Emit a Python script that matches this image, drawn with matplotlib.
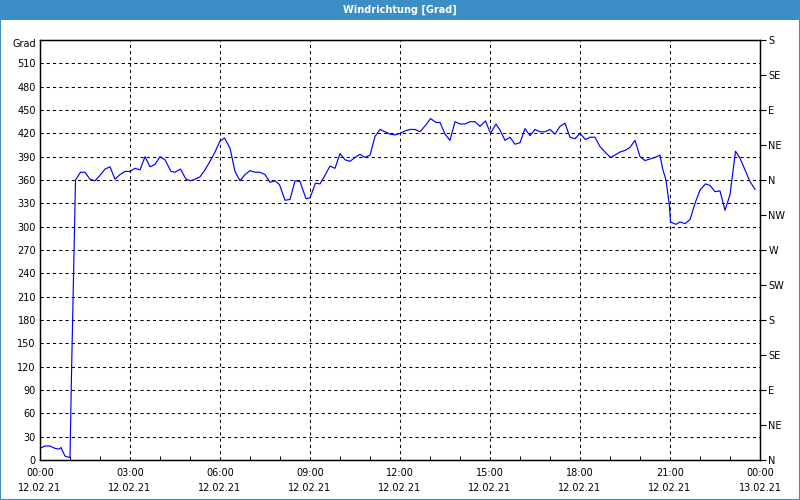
import numpy as np
import matplotlib.pyplot as plt
from matplotlib.patches import Rectangle
from matplotlib.ticker import MultipleLocator

# Minuten seit 00:00 und Windrichtung in Grad
minuten = [0, 10, 20, 30, 38, 42, 50, 60, 61, 63, 71, 81, 90, 100, 110, 120, 130, 140,
           150, 160, 170, 180, 190, 200, 210, 220, 230, 240, 250, 262, 270, 281, 292,
           301, 310, 320, 330, 340, 350, 360, 369, 380, 390, 400, 410, 420, 430, 440,
           450, 460, 470, 479, 490, 500, 510, 520, 532, 540, 551, 560, 570, 580, 590,
           600, 610, 620, 630, 640, 650, 660, 670, 680, 690, 700, 710, 720, 730, 740,
           750, 760, 772, 781, 792, 800, 810, 820, 830, 840, 850, 860, 870, 880, 891,
           901, 912, 920, 930, 940, 950, 960, 970, 980, 990, 1000, 1010, 1020, 1030,
           1040, 1050, 1060, 1070, 1080, 1091, 1100, 1110, 1120, 1130, 1141, 1150,
           1160, 1170, 1180, 1190, 1200, 1210, 1220, 1230, 1240, 1245, 1252, 1259,
           1261, 1272, 1280, 1290, 1300, 1310, 1320, 1331, 1340, 1350, 1360, 1370,
           1380, 1391, 1400, 1410, 1420, 1430]
grad = [15, 18, 18, 15, 14, 16, 5, 3, 39, 110, 360, 370, 370, 361, 359, 366, 374, 377,
        361, 367, 371, 371, 375, 373, 390, 377, 380, 390, 386, 371, 370, 374, 361,
        359, 361, 364, 373, 384, 396, 410, 414, 401, 371, 359, 367, 372, 370, 370,
        367, 357, 359, 354, 334, 335, 359, 358, 336, 337, 356, 355, 366, 378, 375,
        394, 386, 384, 389, 393, 389, 392, 416, 425, 422, 419, 418, 420, 423, 425,
        425, 422, 431, 439, 434, 434, 419, 411, 435, 432, 432, 435, 435, 429, 436,
        420, 432, 424, 411, 415, 406, 408, 426, 417, 425, 422, 422, 425, 419,
        429, 433, 415, 413, 420, 412, 415, 415, 403, 396, 389, 392,
        396, 398, 402, 411, 390, 385, 387, 389, 392, 375, 360, 326,
        306, 303, 306, 304, 309, 330, 347, 355, 353, 345, 346, 321,
        341, 397, 388, 373, 358, 348]

x_ticks = [0, 3, 6, 9, 12, 15, 18, 21, 24]
x_labels = ['00:00\n12.02.21', '03:00\n12.02.21', '06:00\n12.02.21', '09:00\n12.02.21',
            '12:00\n12.02.21', '15:00\n12.02.21', '18:00\n12.02.21', '21:00\n12.02.21',
            '00:00\n13.02.21']
y_ticks = list(range(0, 540, 30))
richtung_pos = list(range(0, 541, 45))
richtung = ['N', 'NE', 'E', 'SE', 'S', 'SW', 'W', 'NW', 'N', 'NE', 'E', 'SE', 'S']

plt.rcParams['font.family'] = ['DejaVu Sans']
plt.rcParams['font.size'] = 7

fig = plt.figure(figsize=(8, 5), dpi=100)
fig.patch.set_facecolor('white')

blau = '#3c8fc6'
# Titelleiste + Rahmen
fig.patches.append(Rectangle((0, 0.96), 1, 0.04, transform=fig.transFigure,
                             facecolor=blau, edgecolor='none', zorder=0))
fig.patches.append(Rectangle((0.0006, 0.001), 0.9988, 0.998, transform=fig.transFigure,
                             facecolor='none', edgecolor=blau, lw=1.5, zorder=0))
fig.text(0.5, 0.98, 'Windrichtung [Grad]', color='white', fontsize=7, fontweight='bold',
         ha='center', va='center')

ax = fig.add_axes([0.05, 0.08, 0.9, 0.84])
stunden = np.array(minuten) / 60.0
ax.plot(stunden, grad, color='#0000ff', lw=0.85)

ax.set_xlim(0, 24)
ax.set_ylim(0, 540)
ax.set_xticks(x_ticks, x_labels)
ax.xaxis.set_minor_locator(MultipleLocator(1))
ax.set_yticks(y_ticks)
ax.tick_params(axis='x', which='major', length=0, pad=6)
ax.tick_params(axis='x', which='minor', direction='in', length=3, width=0.7)
ax.tick_params(axis='y', length=0, pad=3)
for lab in ax.get_xticklabels():
    lab.set_linespacing(1.6)

ax.grid(True, which='major', color='black', lw=0.75, linestyle=(0, (3, 3)))
for s in ax.spines.values():
    s.set_linewidth(1.0)
    s.set_color('black')

ax.text(-0.006, 535, 'Grad', transform=ax.get_yaxis_transform(), ha='right', va='center')

ax2 = ax.twinx()
ax2.set_ylim(0, 540)
ax2.set_yticks(richtung_pos, richtung)
ax2.tick_params(axis='y', direction='out', length=4, width=0.8, pad=2)

fig.savefig('out.png', dpi=100, facecolor='white')
